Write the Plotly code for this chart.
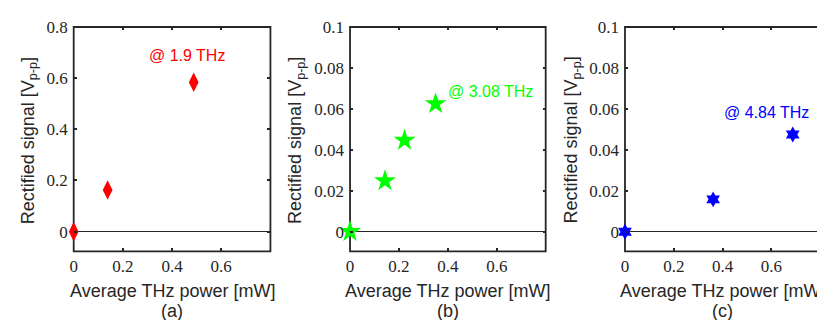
import plotly.graph_objects as go

# Data
power_a = [0.0, 0.138, 0.488]
signal_a = [0.0, 0.163, 0.584]
power_b = [0.0, 0.143, 0.223, 0.35]
signal_b = [0.0, 0.0248, 0.0446, 0.0625]
power_c = [0.0, 0.361, 0.687]
signal_c = [0.0, 0.0158, 0.0475]

x_ticks = [0, 0.2, 0.4, 0.6]
x_ticklabels = ["0", "0.2", "0.4", "0.6"]
y_ticks_a = [0, 0.2, 0.4, 0.6, 0.8]
y_ticklabels_a = ["0", "0.2", "0.4", "0.6", "0.8"]
y_ticks_bc = [0, 0.02, 0.04, 0.06, 0.08, 0.1]
y_ticklabels_bc = ["0", "0.02", "0.04", "0.06", "0.08", "0.1"]

labels = ["@ 1.9 THz", "@ 3.08 THz", "@ 4.84 THz"]
panel_labels = ["(a)", "(b)", "(c)"]

# page body has an 8px margin: figure is drawn 8px in from the window corner
OFF = 8
W, H = 825 - OFF, 320 - OFF
AX = "#262626"
SANS = "Liberation Sans, Arial, sans-serif"
SERIF = "Liberation Serif, Times New Roman, serif"


def px_x(p):
    return (p - OFF) / W


def px_y(p):
    return 1 - (p - OFF) / H


fig = go.Figure()
fig.add_trace(go.Scatter(x=power_a, y=signal_a, mode="markers", xaxis="x", yaxis="y",
                         marker=dict(symbol="diamond-tall", size=14, color="#FF0000"),
                         cliponaxis=False, showlegend=False))
fig.add_trace(go.Scatter(x=power_b, y=signal_b, mode="markers", xaxis="x2", yaxis="y2",
                         marker=dict(symbol="star", size=16.5, color="#00FF00"),
                         cliponaxis=False, showlegend=False))
fig.add_trace(go.Scatter(x=power_c, y=signal_c, mode="markers", xaxis="x3", yaxis="y3",
                         marker=dict(symbol="hexagram", size=12, color="#0000FF"),
                         cliponaxis=False, showlegend=False))

xdoms = [(70, 267.7), (347.7, 544.3), (624, 820.3)]
ydom = [px_y(249.3), px_y(18.3)]


def xaxis(dom, anchor):
    return dict(domain=[px_x(dom[0]), px_x(dom[1])], anchor=anchor, range=[0, 0.8],
                tickvals=x_ticks, ticktext=x_ticklabels, ticks="inside", ticklen=3,
                tickwidth=1.5, tickcolor=AX, showline=False, mirror="allticks",
                showgrid=False, zeroline=False, ticklabelstandoff=3,
                tickfont=dict(family=SERIF, size=17, color=AX))


def yaxis(anchor, rng, tv, tt):
    return dict(domain=ydom, anchor=anchor, range=rng, tickvals=tv, ticktext=tt,
                ticks="inside", ticklen=3, tickwidth=1.5, tickcolor=AX, showline=False,
                mirror="allticks", showgrid=False,
                zeroline=True, zerolinecolor=AX, zerolinewidth=1.3, ticklabelstandoff=5,
                tickfont=dict(family=SERIF, size=17, color=AX))


fig.update_layout(
    width=W, height=H, margin=dict(l=0, r=0, t=0, b=0),
    paper_bgcolor="white", plot_bgcolor="white",
    xaxis=xaxis(xdoms[0], "y"),
    xaxis2=xaxis(xdoms[1], "y2"),
    xaxis3=xaxis(xdoms[2], "y3"),
    yaxis=yaxis("x", [-0.077, 0.8], y_ticks_a, y_ticklabels_a),
    yaxis2=yaxis("x2", [-0.0096, 0.1], y_ticks_bc, y_ticklabels_bc),
    yaxis3=yaxis("x3", [-0.0096, 0.1], y_ticks_bc, y_ticklabels_bc),
)

# closed axes box around every panel
shapes = []
for xa, ya in [("x", "y"), ("x2", "y2"), ("x3", "y3")]:
    shapes.append(dict(type="rect", xref=xa + " domain", yref=ya + " domain",
                       x0=0, x1=1, y0=0, y1=1, layer="below",
                       line=dict(color=AX, width=1.8)))
fig.update_layout(shapes=shapes)

ann = []
label_pos = [("x", "y", 0.461, 0.687, "#FF0000"),
             ("x2", "y2", 0.575, 0.0683, "#00FF00"),
             ("x3", "y3", 0.578, 0.058, "#0000FF")]
for (xr, yr, xv, yv, col), txt in zip(label_pos, labels):
    ann.append(dict(x=xv, y=yv, xref=xr, yref=yr, text=txt, showarrow=False,
                    xanchor="center", yanchor="middle",
                    font=dict(family=SANS, size=16, color=col)))

ytitle_x = [25, 294, 571]
for i, dom in enumerate(xdoms):
    cx = px_x((dom[0] + dom[1]) / 2)
    ann.append(dict(x=cx, y=px_y(290), xref="paper", yref="paper",
                    xanchor="center", yanchor="middle",
                    text="Average THz power [mW]", showarrow=False,
                    font=dict(family=SANS, size=18, color=AX)))
    ann.append(dict(x=cx, y=px_y(311), xref="paper", yref="paper",
                    xanchor="center", yanchor="middle",
                    text=panel_labels[i], showarrow=False,
                    font=dict(family=SANS, size=18, color=AX)))
    ann.append(dict(x=px_x(ytitle_x[i]), y=px_y(135), xref="paper", yref="paper",
                    xanchor="center", yanchor="middle",
                    text="Rectified signal [V<sub>p-p</sub>]", showarrow=False,
                    textangle=-90, font=dict(family=SANS, size=18, color=AX)))
fig.update_layout(annotations=ann)

fig.write_html("out.html")
